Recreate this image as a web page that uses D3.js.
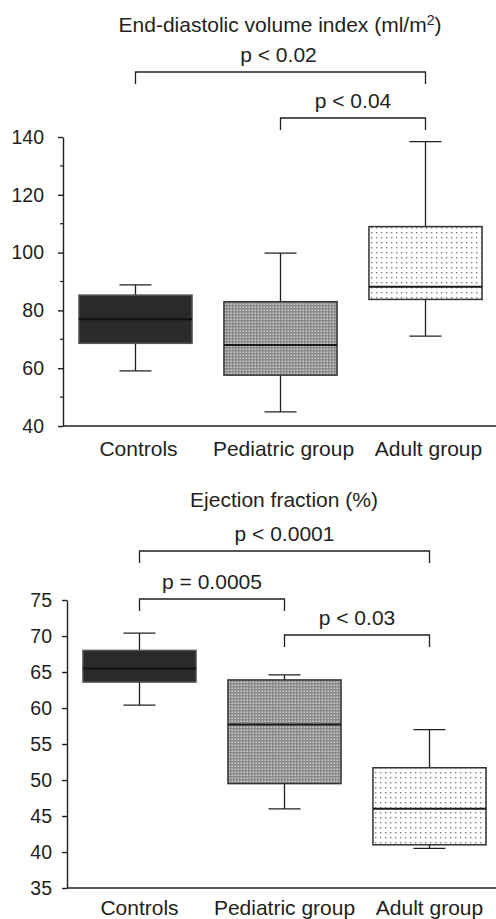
<!DOCTYPE html>
<html lang="en">
<head>
<meta charset="utf-8">
<title>EDVI and EF box plots</title>
<script src="https://d3js.org/d3.v7.min.js"></script>
<style>
  body { margin: 0; background: #fff; }
  text { font-family: "Liberation Sans", Arial, sans-serif; fill: #231f20; }
</style>
</head>
<body>
<svg id="chart" width="496" height="919"></svg>
<script>
// groups on the x axis
var groups = ["Controls", "Pediatric group", "Adult group"];

// box stats per group: [whisker low, q1, median, q3, whisker high]
var edviStats = [
  [59.1, 68.6, 76.9, 85.3, 88.8],
  [44.9, 57.6, 68.0, 83.0, 99.8],
  [71.1, 83.8, 88.2, 109.0, 138.4]
];
var efStats = [
  [60.4, 63.6, 65.5, 68.0, 70.4],
  [46.0, 49.5, 57.7, 63.9, 64.6],
  [40.5, 41.0, 46.0, 51.7, 57.0]
];

// axis ticks
var edviTicks = [40, 60, 80, 100, 120, 140];
var edviMinorTicks = [50, 70, 90, 110, 130];
var efTicks = [35, 40, 45, 50, 55, 60, 65, 70, 75];

// significance brackets
var edviPairs = [["Controls", "Adult group"], ["Pediatric group", "Adult group"]];
var edviPLabels = ["p < 0.02", "p < 0.04"];
var efPairs = [["Controls", "Adult group"], ["Controls", "Pediatric group"], ["Pediatric group", "Adult group"]];
var efPLabels = ["p < 0.0001", "p = 0.0005", "p < 0.03"];

var svg = d3.select("#chart");
var ink = "#231f20";
var textSize = "21px";

// fill patterns
var defs = svg.append("defs");
var pedPat = defs.append("pattern").attr("id", "pedFill")
  .attr("patternUnits", "userSpaceOnUse").attr("width", 3).attr("height", 3);
pedPat.append("rect").attr("width", 3).attr("height", 3).attr("fill", "#8a8a8a");
pedPat.append("rect").attr("x", 0.5).attr("y", 0.5).attr("width", 1.5).attr("height", 1.5).attr("fill", "#cfcfcf");

var adPat = defs.append("pattern").attr("id", "adFill")
  .attr("patternUnits", "userSpaceOnUse").attr("width", 5).attr("height", 5);
adPat.append("rect").attr("width", 5).attr("height", 5).attr("fill", "#fff");
adPat.append("rect").attr("x", 2).attr("y", 2).attr("width", 1.4).attr("height", 1.4).attr("fill", "#7c7c7c");

var fills = ["#2b2a2b", "url(#pedFill)", "url(#adFill)"];
var strokes = ["#555", "#333", "#333"];
var medianColors = ["#111", "#1a1a1a", "#1a1a1a"];

function drawChart(opt) {
  var g = svg.append("g");
  var x = d3.scaleBand().domain(groups).range(opt.xRange)
    .paddingInner(0.22).paddingOuter(0.11);
  var y = d3.scaleLinear().domain(opt.yDomain).range(opt.yRange);
  var bw = x.bandwidth();
  var cap = 16;

  // y axis
  var yAxis = g.append("g").attr("transform", "translate(" + opt.xRange[0] + ",0)")
    .call(d3.axisLeft(y).tickValues(opt.ticks).tickSize(5).tickSizeOuter(0).tickPadding(opt.tickPad));
  yAxis.selectAll("text").style("font-size", "19.5px").attr("fill", ink);
  yAxis.selectAll("line, path").attr("stroke", ink).attr("stroke-width", 1.4);
  if (opt.minor) {
    g.selectAll(".minor").data(opt.minor).enter().append("line")
      .attr("x1", opt.xRange[0] - 3).attr("x2", opt.xRange[0])
      .attr("y1", function(d) { return y(d); }).attr("y2", function(d) { return y(d); })
      .attr("stroke", ink).attr("stroke-width", 1.2);
  }

  // x axis
  var xAxis = g.append("g").attr("transform", "translate(0," + opt.yRange[0] + ")")
    .call(d3.axisBottom(x).tickSize(0).tickPadding(opt.labelPad));
  xAxis.select(".domain").attr("stroke", ink).attr("stroke-width", 1.4)
    .attr("d", "M" + opt.xRange[0] + ",0H496");
  xAxis.selectAll("text").style("font-size", textSize).attr("fill", ink).attr("dx", opt.labelDx);

  // boxes
  var box = g.selectAll(".box").data(opt.stats).enter().append("g")
    .attr("transform", function(d, i) { return "translate(" + x(groups[i]) + ",0)"; });
  box.append("line")
    .attr("x1", bw / 2).attr("x2", bw / 2)
    .attr("y1", function(d) { return y(d[3]); }).attr("y2", function(d) { return y(d[4]); })
    .attr("stroke", ink).attr("stroke-width", 1.3);
  box.append("line")
    .attr("x1", bw / 2).attr("x2", bw / 2)
    .attr("y1", function(d) { return y(d[1]); }).attr("y2", function(d) { return y(d[0]); })
    .attr("stroke", ink).attr("stroke-width", 1.3);
  [0, 4].forEach(function(k) {
    box.append("line")
      .attr("x1", bw / 2 - cap).attr("x2", bw / 2 + cap)
      .attr("y1", function(d) { return y(d[k]); }).attr("y2", function(d) { return y(d[k]); })
      .attr("stroke", ink).attr("stroke-width", 1.3);
  });
  box.append("rect")
    .attr("x", 0).attr("width", bw)
    .attr("y", function(d) { return y(d[3]); })
    .attr("height", function(d) { return y(d[1]) - y(d[3]); })
    .attr("fill", function(d, i) { return fills[i]; })
    .attr("stroke", function(d, i) { return strokes[i]; })
    .attr("stroke-width", 1.5);
  box.append("line")
    .attr("x1", 0).attr("x2", bw)
    .attr("y1", function(d) { return y(d[2]); }).attr("y2", function(d) { return y(d[2]); })
    .attr("stroke", function(d, i) { return medianColors[i]; })
    .attr("stroke-width", 2);

  // title
  var title = g.append("text").attr("x", opt.titleX).attr("y", opt.titleY)
    .attr("text-anchor", "middle").style("font-size", textSize).text(opt.title);
  if (opt.titleSup) {
    title.append("tspan").attr("dy", -7).style("font-size", "14px").text(opt.titleSup);
    title.append("tspan").attr("dy", 7).text(")");
  }

  // significance brackets
  opt.pairs.forEach(function(p, i) {
    var x1 = x(p[0]) + bw / 2, x2 = x(p[1]) + bw / 2, by = opt.bracketY[i];
    g.append("path")
      .attr("d", "M" + x1 + "," + (by + 12) + "V" + by + "H" + x2 + "V" + (by + 12))
      .attr("fill", "none").attr("stroke", ink).attr("stroke-width", 1.3);
    g.append("text").attr("x", (x1 + x2) / 2 + opt.pDx[i]).attr("y", by - 10)
      .attr("text-anchor", "middle").style("font-size", textSize).text(opt.pLabels[i]);
  });
}

drawChart({
  stats: edviStats, ticks: edviTicks, minor: edviMinorTicks,
  xRange: [63, 498], yDomain: [40, 140], yRange: [426, 137],
  tickPad: 14, labelPad: 15, labelDx: 3,
  title: "End-diastolic volume index (ml/m", titleSup: "2", titleX: 280, titleY: 32,
  pairs: edviPairs, pLabels: edviPLabels, bracketY: [72, 118], pDx: [-2, 0]
});

drawChart({
  stats: efStats, ticks: efTicks,
  xRange: [67, 502], yDomain: [35, 75], yRange: [888, 600],
  tickPad: 10, labelPad: 12, labelDx: 0,
  title: "Ejection fraction (%)", titleX: 284, titleY: 507,
  pairs: efPairs, pLabels: efPLabels, bracketY: [551, 599, 635], pDx: [0, 0, 0]
});
</script>
</body>
</html>
